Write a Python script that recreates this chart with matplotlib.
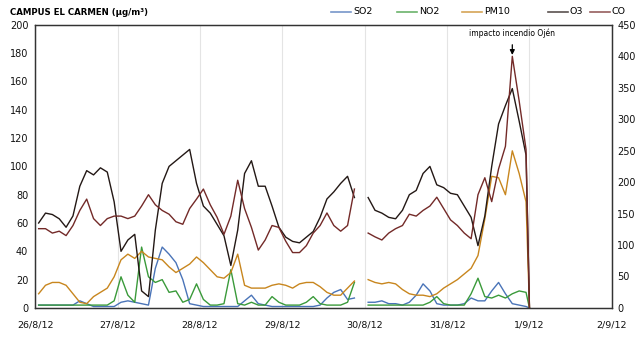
import datetime as dt
import numpy as np
import matplotlib
matplotlib.use('Agg')
import matplotlib.pyplot as plt
from matplotlib.lines import Line2D
from matplotlib.ticker import FuncFormatter
import matplotlib.dates as mdates

nan = np.nan

# two-hourly readings from 26/8/12 00:00 (hour offsets); last point is the cut-off at 1/9
hours = list(range(1, 144, 2)) + [144]

# left axis, ug/m3
so2 = [2, 2, 2, 2, 2, 2, 5, 3, 1, 1, 1, 1,
       4, 5, 4, 3, 2, 28, 43, 38, 32, 20, 3, 2,
       1, 1, 1, 1, 1, 1, 5, 9, 3, 2, 1, 1,
       1, 1, 1, 1, 1, 2, 7, 11, 13, 6, 7, nan,
       4, 4, 5, 3, 3, 2, 4, 9, 17, 12, 3, 2,
       2, 2, 3, 7, 5, 5, 12, 18, 10, 3, 2, 1,
       0]
no2 = [2, 2, 2, 2, 2, 2, 2, 2, 2, 2, 2, 5,
       22, 9, 4, 43, 22, 18, 20, 11, 12, 4, 6, 17,
       6, 2, 2, 3, 27, 3, 2, 4, 2, 2, 8, 4,
       2, 2, 2, 4, 8, 3, 2, 2, 2, 4, 18, nan,
       2, 2, 2, 2, 2, 2, 2, 2, 2, 4, 8, 3,
       2, 2, 2, 10, 21, 8, 7, 9, 7, 10, 12, 11,
       0]
pm10 = [10, 16, 18, 18, 16, 10, 4, 3, 8, 11, 14, 22,
        34, 38, 35, 40, 36, 35, 34, 29, 25, 28, 31, 36,
        32, 27, 22, 21, 25, 38, 16, 14, 14, 14, 16, 17,
        16, 14, 17, 18, 18, 15, 11, 9, 9, 14, 19, nan,
        20, 18, 17, 18, 17, 13, 10, 9, 9, 8, 10, 14,
        17, 20, 24, 28, 37, 63, 93, 92, 80, 111, 95, 75,
        0]
o3 = [60, 67, 66, 63, 57, 65, 86, 97, 94, 99, 96, 75,
      40, 48, 52, 12, 8, 55, 88, 100, 104, 108, 112, 88,
      72, 67, 59, 51, 30, 55, 95, 104, 86, 86, 72, 57,
      50, 47, 46, 50, 54, 64, 77, 82, 88, 93, 78, nan,
      78, 69, 67, 64, 63, 69, 80, 83, 95, 100, 87, 85,
      81, 80, 72, 64, 44, 65, 100, 130, 143, 155, 132, 108,
      0]
# right axis
co = [126, 126, 119, 122, 115, 131, 155, 173, 142, 131, 142, 146,
      146, 142, 146, 162, 180, 164, 155, 149, 137, 133, 158, 173,
      189, 164, 144, 117, 146, 203, 158, 128, 92, 108, 131, 128,
      106, 88, 88, 99, 119, 131, 151, 131, 122, 131, 189, nan,
      119, 113, 108, 119, 126, 131, 149, 146, 155, 162, 176, 158,
      140, 131, 119, 110, 180, 207, 169, 221, 257, 400, 329, 252,
      0]

start = dt.datetime(2012, 8, 26)
times = [start + dt.timedelta(hours=h) for h in hours]

colors = {'SO2': '#4a74b8', 'NO2': '#3a9a3a', 'PM10': '#c8861e',
          'O3': '#231815', 'CO': '#732a28'}

fig = plt.figure(figsize=(6.4, 3.41), dpi=100)
ax = fig.add_axes([0.055, 0.097, 0.901, 0.830])
ax2 = ax.twinx()

ax.plot(times, so2, color=colors['SO2'], lw=1)
ax.plot(times, no2, color=colors['NO2'], lw=1)
ax.plot(times, pm10, color=colors['PM10'], lw=1)
ax.plot(times, o3, color=colors['O3'], lw=1)
ax2.plot(times, co, color=colors['CO'], lw=1)

ax.set_xlim(start, dt.datetime(2012, 9, 2))
ax.set_ylim(0, 200)
ax2.set_ylim(0, 450)
ax.set_yticks(range(0, 201, 20))
ax2.set_yticks(range(0, 451, 50))

ax.xaxis.set_major_locator(mdates.DayLocator())
ax.xaxis.set_major_formatter(FuncFormatter(
    lambda x, pos: '{d.day}/{d.month}/{d:%y}'.format(d=mdates.num2date(x))))
ax.grid(axis='x', color='#e4e4e4', lw=0.8)

for a in (ax, ax2):
    a.tick_params(length=0, labelsize=7, colors='#111111')
    for s in a.spines.values():
        s.set_color('#333333')
        s.set_linewidth(0.9)
ax.tick_params(axis='x', pad=9, labelsize=6.8)
ax.tick_params(axis='y', pad=5)
ax2.tick_params(axis='y', pad=4)

# annotation for the fire
ax2.annotate('impacto incendio Ojén', xy=(times[69], co[69]),
             xytext=(times[69], 437), ha='center', va='center', fontsize=5.5,
             arrowprops=dict(arrowstyle='-|>', color='black', lw=0.9,
                             mutation_scale=7, shrinkA=3, shrinkB=1))

fig.text(0.016, 0.962, 'CAMPUS EL CARMEN (µg/m³)', fontweight='bold',
         fontsize=6.2, va='center')

# legend along the top
legend_x = [331, 397, 462, 548, 590]
for name, x0 in zip(['SO2', 'NO2', 'PM10', 'O3', 'CO'], legend_x):
    fig.lines.append(Line2D([x0 / 640, (x0 + 20) / 640], [0.965, 0.965],
                            color=colors[name], lw=1.2, alpha=0.75,
                            transform=fig.transFigure))
    fig.text((x0 + 22) / 640, 0.965, name, fontsize=6.8, va='center')

fig.savefig('out.png', dpi=100)
